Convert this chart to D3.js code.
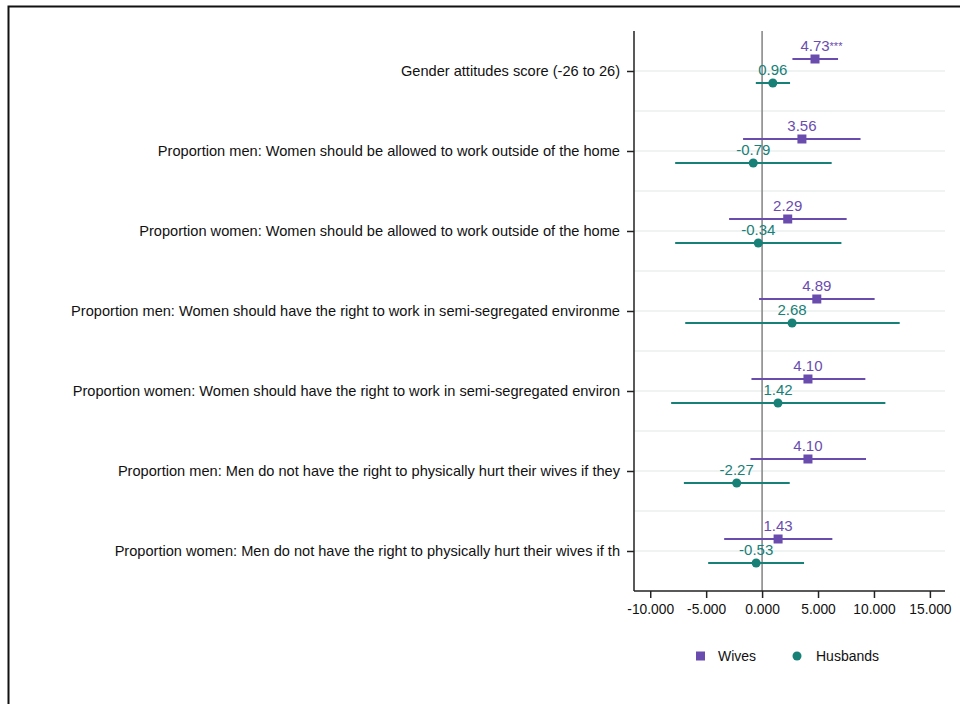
<!DOCTYPE html>
<html>
<head>
<meta charset="utf-8">
<script src="https://cdn.jsdelivr.net/npm/d3@7"></script>
<style>
  body { margin: 0; background: #fff; }
  svg { display: block; font-family: "Liberation Sans", Arial, Helvetica, sans-serif; }
</style>
</head>
<body>
<div id="chart"></div>
<script>
// outcomes, top to bottom
var outcomes = [
  "Gender attitudes score (-26 to 26)",
  "Proportion men: Women should be allowed to work outside of the home",
  "Proportion women: Women should be allowed to work outside of the home",
  "Proportion men: Women should have the right to work in semi-segregated environme",
  "Proportion women: Women should have the right to work in semi-segregated environ",
  "Proportion men: Men do not have the right to physically hurt their wives if they",
  "Proportion women: Men do not have the right to physically hurt their wives if th"
];

var wivesEst   = [4.73, 3.56, 2.29, 4.89, 4.10, 4.10, 1.43];
var wivesLo    = [2.71, -1.70, -2.95, -0.27, -0.95, -1.04, -3.39];
var wivesHi    = [6.79, 8.80, 7.56, 10.06, 9.23, 9.29, 6.28];
var wivesStars = ["***", "", "", "", "", "", ""];

var husbEst    = [0.96, -0.79, -0.34, 2.68, 1.42, -2.27, -0.53];
var husbLo     = [-0.56, -7.77, -7.77, -6.87, -8.13, -6.99, -4.82];
var husbHi     = [2.50, 6.22, 7.09, 12.30, 11.02, 2.47, 3.75];

var xTicks = [-10, -5, 0, 5, 10, 15];

(function(){
  var purple = '#6a4caf';
  var teal   = '#178077';

  var W = 960, H = 704;
  var pLeft = 634, pRight = 945, pTop = 31, pBottom = 591;
  var fmt = function(v){ return v.toFixed(3); };

  var svg = d3.select('#chart').append('svg')
    .attr('width', W).attr('height', H);

  // outer frame
  svg.append('rect')
    .attr('x', 8.5).attr('y', 6.5)
    .attr('width', 1000).attr('height', 1000)
    .attr('fill', 'none').attr('stroke', '#111').attr('stroke-width', 2);

  var x = d3.scaleLinear().domain([-11.45, 16.35]).range([pLeft, pRight]);
  var y = d3.scaleBand().domain(d3.range(outcomes.length)).range([pTop, pBottom]).padding(0);
  var yc = function(i){ return y(i) + y.bandwidth() / 2; };

  // grid lines: at each row and between rows
  var gridYs = [];
  outcomes.forEach(function(d, i){
    gridYs.push(yc(i));
    if(i > 0){ gridYs.push(y(i)); }
  });
  svg.append('g').selectAll('line').data(gridYs).enter().append('line')
    .attr('x1', pLeft).attr('x2', pRight)
    .attr('y1', function(d){ return d; }).attr('y2', function(d){ return d; })
    .attr('stroke', '#eaf0ef').attr('stroke-width', 1.6);

  // zero line
  svg.append('line')
    .attr('x1', x(0)).attr('x2', x(0)).attr('y1', pTop).attr('y2', pBottom)
    .attr('stroke', '#8a8a8a').attr('stroke-width', 1.6);

  // y axis
  var yPoint = d3.scalePoint().domain(outcomes).range([yc(0), yc(outcomes.length - 1)]);
  var yAxis = svg.append('g').attr('transform', 'translate(' + pLeft + ',0)')
    .call(d3.axisLeft(yPoint).tickSize(7).tickPadding(7));
  yAxis.select('.domain').remove();
  yAxis.append('line').attr('x1', 0).attr('x2', 0).attr('y1', pTop).attr('y2', pBottom)
    .attr('stroke', '#222').attr('stroke-width', 1.5);
  yAxis.selectAll('.tick line').attr('stroke', '#222').attr('stroke-width', 1.5);
  yAxis.selectAll('.tick text').attr('fill', '#111').style('font-size', '14.6px')
    .style('font-family', '"Liberation Sans", Arial, sans-serif');

  // x axis
  var xAxis = svg.append('g').attr('transform', 'translate(0,' + pBottom + ')')
    .call(d3.axisBottom(x).tickValues(xTicks).tickFormat(fmt).tickSize(7).tickPadding(6));
  xAxis.select('.domain').remove();
  xAxis.append('line').attr('x1', pLeft).attr('x2', pRight).attr('y1', 0).attr('y2', 0)
    .attr('stroke', '#222').attr('stroke-width', 1.5);
  xAxis.selectAll('.tick line').attr('stroke', '#222').attr('stroke-width', 1.5);
  xAxis.selectAll('.tick text').attr('fill', '#111').style('font-size', '13.8px')
    .style('font-family', '"Liberation Sans", Arial, sans-serif');

  // series
  var series = [
    { est: wivesEst, lo: wivesLo, hi: wivesHi, stars: wivesStars, color: purple, dy: -12, shape: 'square' },
    { est: husbEst,  lo: husbLo,  hi: husbHi,  stars: null,       color: teal,   dy: 12,  shape: 'circle' }
  ];

  series.forEach(function(s){
    var g = svg.append('g');
    var rows = d3.range(outcomes.length);
    g.selectAll('line.ci').data(rows).enter().append('line')
      .attr('class', 'ci')
      .attr('x1', function(i){ return x(s.lo[i]); })
      .attr('x2', function(i){ return x(s.hi[i]); })
      .attr('y1', function(i){ return yc(i) + s.dy; })
      .attr('y2', function(i){ return yc(i) + s.dy; })
      .attr('stroke', s.color).attr('stroke-width', 2);

    if(s.shape === 'square'){
      g.selectAll('rect.pt').data(rows).enter().append('rect')
        .attr('class', 'pt')
        .attr('x', function(i){ return x(s.est[i]) - 4.5; })
        .attr('y', function(i){ return yc(i) + s.dy - 4.5; })
        .attr('width', 9).attr('height', 9)
        .attr('fill', s.color);
    } else {
      g.selectAll('circle.pt').data(rows).enter().append('circle')
        .attr('class', 'pt')
        .attr('cx', function(i){ return x(s.est[i]); })
        .attr('cy', function(i){ return yc(i) + s.dy; })
        .attr('r', 4.5)
        .attr('fill', s.color);
    }

    g.selectAll('text.lab').data(rows).enter().append('text')
      .attr('class', 'lab')
      .attr('x', function(i){ return x(s.est[i]); })
      .attr('y', function(i){ return yc(i) + s.dy - 8; })
      .attr('text-anchor', 'middle')
      .attr('fill', s.color)
      .style('font-size', '15px')
      .each(function(i){
        var t = d3.select(this);
        t.append('tspan').text(s.est[i].toFixed(2));
        if(s.stars && s.stars[i]){
          t.append('tspan').attr('font-size', '11px').attr('dy', -1).text(s.stars[i]);
        }
      });
  });

  // keep the number centred over the marker when stars follow it
  svg.selectAll('text.lab').each(function(){
    var t = d3.select(this);
    var spans = t.selectAll('tspan');
    if(spans.size() > 1){
      var w = spans.nodes()[1].getComputedTextLength();
      t.attr('x', +t.attr('x') + w / 2);
    }
  });

  // legend
  var legend = svg.append('g').attr('transform', 'translate(0,656)');
  legend.append('rect').attr('x', 696).attr('y', -4.5).attr('width', 9).attr('height', 9).attr('fill', purple);
  legend.append('text').attr('x', 718).attr('y', 5).attr('fill', '#111').style('font-size', '14px').text('Wives');
  legend.append('circle').attr('cx', 797).attr('cy', 0).attr('r', 4.5).attr('fill', teal);
  legend.append('text').attr('x', 816).attr('y', 5).attr('fill', '#111').style('font-size', '14px').text('Husbands');
})();
</script>
</body>
</html>
